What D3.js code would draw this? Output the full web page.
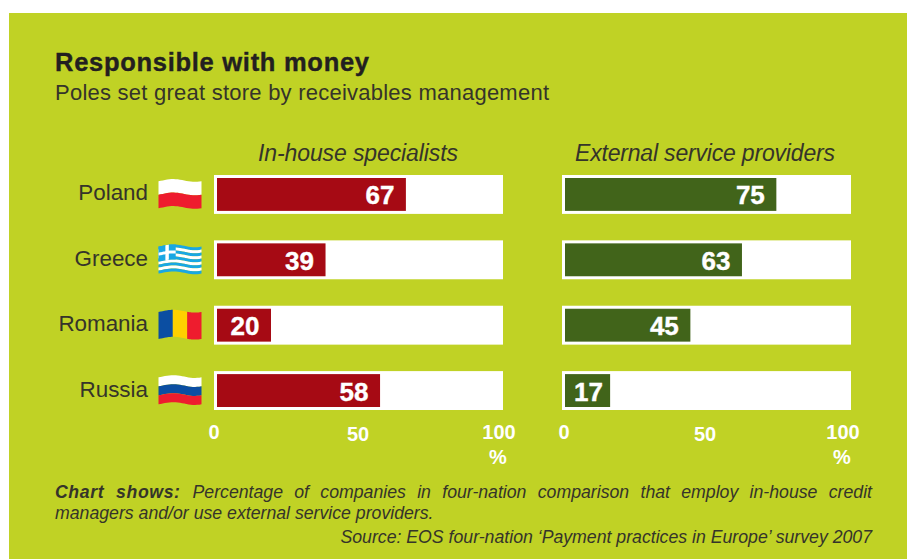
<!DOCTYPE html>
<html>
<head>
<meta charset="utf-8">
<script src="https://cdn.jsdelivr.net/npm/d3@7"></script>
<style>
html,body{margin:0;padding:0;background:#fff;}
svg{display:block;}
text{font-family:"Liberation Sans",Arial,sans-serif;}
</style>
</head>
<body>
<svg id="chart" width="907" height="559"></svg>
<script>
const countries = ["Poland", "Greece", "Romania", "Russia"];
const inHouse = [67, 39, 20, 58];
const external = [75, 63, 45, 17];
const tickValues = [0, 50, 100];
const panelTitles = ["In-house specialists", "External service providers"];
const flagStripes = [
  ["#ffffff", "#ee1c2e"],
  null,
  null,
  ["#ffffff", "#0b4ea2", "#ee1c2e"]
];
const romaniaBands = ["#0b4ea2", "#ffd100", "#ee1c2e"];

const svg = d3.select("#chart");
const ink = "#35342a";

svg.append("rect").attr("x", 9).attr("y", 13).attr("width", 898).attr("height", 546).attr("fill", "#c0d225");

svg.append("text").attr("x", 55).attr("y", 71).attr("font-size", 25.5).attr("font-weight", 700)
  .attr("fill", "#231f20").attr("stroke", "#231f20").attr("stroke-width", 0.4)
  .attr("textLength", 314).text("Responsible with money");
svg.append("text").attr("x", 55).attr("y", 100).attr("font-size", 22).attr("fill", ink)
  .attr("textLength", 494).text("Poles set great store by receivables management");

const y = d3.scaleBand().domain(countries).range([175, 410]).paddingInner(0.405).paddingOuter(0);

const panels = [
  { values: inHouse, trackX: 214, range: [213.6, 500.6], color: "#a60a14", titleX: 358, title: panelTitles[0], titleLen: 200, tickX: [214, 358, 499] },
  { values: external, trackX: 562, range: [561.4, 848], color: "#41641a", titleX: 705, title: panelTitles[1], titleLen: 260, tickX: [564, 705, 843] }
];

panels.forEach(p => {
  const x = d3.scaleLinear().domain([0, 100]).range(p.range);
  const barLeft = p.trackX + 3;
  const g = svg.append("g");

  g.append("text").attr("x", p.titleX).attr("y", 161).attr("text-anchor", "middle")
    .attr("font-size", 23).attr("font-style", "italic").attr("fill", ink)
    .attr("textLength", p.titleLen).text(p.title);

  g.selectAll("rect.track").data(countries).join("rect").attr("class", "track")
    .attr("x", p.trackX).attr("y", d => y(d)).attr("width", 289).attr("height", y.bandwidth())
    .attr("fill", "#fff");

  g.selectAll("rect.bar").data(p.values).join("rect").attr("class", "bar")
    .attr("x", barLeft).attr("y", (d, i) => y(countries[i]) + 3)
    .attr("width", d => x(d) - barLeft).attr("height", y.bandwidth() - 6)
    .attr("fill", p.color);

  g.selectAll("text.value").data(p.values).join("text").attr("class", "value")
    .attr("x", d => d < 30 ? (x(d) + barLeft) / 2 + 1 : x(d) - 26)
    .attr("y", (d, i) => y(countries[i]) + y.bandwidth() / 2 + 10)
    .attr("text-anchor", "middle").attr("font-size", 26).attr("font-weight", 700)
    .attr("fill", "#fff").attr("stroke", "#fff").attr("stroke-width", 0.4).text(d => d);

  g.selectAll("text.tick").data(tickValues).join("text").attr("class", "tick")
    .attr("x", (d, i) => p.tickX[i]).attr("y", (d, i) => i === 1 ? 441 : 439)
    .attr("text-anchor", "middle").attr("font-size", 20).attr("font-weight", 700)
    .attr("fill", "#fff").text(d => d);

  g.append("text").attr("x", p.tickX[2] - 1).attr("y", 464).attr("text-anchor", "middle")
    .attr("font-size", 20).attr("font-weight", 700).attr("fill", "#fff").text("%");
});

svg.selectAll("text.country").data(countries).join("text").attr("class", "country")
  .attr("x", 148).attr("y", d => y(d) + y.bandwidth() / 2 + 6)
  .attr("text-anchor", "end").attr("font-size", 22.4).attr("fill", ink).text(d => d);

// Waving flag: horizontal bands are bent along a sine so each one ripples.
const flagW = 43, flagH = 27;
const wave = u => -1.4 * Math.sin(u * Math.PI * 2 - 0.6);
function waveBand(x0, y0, u0, u1, v0, v1) {
  const steps = d3.range(0, 21).map(i => u0 + (u1 - u0) * i / 20);
  const top = steps.map(u => [x0 + u * flagW, y0 + v0 * flagH + wave(u)]);
  const bottom = steps.slice().reverse().map(u => [x0 + u * flagW, y0 + v1 * flagH + wave(u)]);
  return d3.line()(top.concat(bottom)) + "Z";
}

countries.forEach((c, i) => {
  const fx = 158.5, fy = y(c) + y.bandwidth() / 2 - 14;
  const g = svg.append("g");
  if (c === "Greece") {
    const stripes = d3.range(9);
    g.selectAll("path.s").data(stripes).join("path").attr("class", "s")
      .attr("d", s => waveBand(fx, fy, 0, 1, s / 9, (s + 1) / 9))
      .attr("fill", s => s % 2 ? "#ffffff" : "#19a7e3");
    g.append("path").attr("d", waveBand(fx, fy, 0, 0.4, 0, 5 / 9)).attr("fill", "#19a7e3");
    g.append("path").attr("d", waveBand(fx, fy, 0, 0.4, 2 / 9, 3 / 9)).attr("fill", "#fff");
    g.append("path").attr("d", waveBand(fx, fy, 0.16, 0.24, 0, 5 / 9)).attr("fill", "#fff");
  } else if (c === "Romania") {
    romaniaBands.forEach((col, k) => {
      g.append("path").attr("d", waveBand(fx, fy, k / 3, (k + 1) / 3, 0, 1)).attr("fill", col);
    });
  } else {
    const bands = flagStripes[i];
    bands.forEach((col, k) => {
      g.append("path").attr("d", waveBand(fx, fy, 0, 1, k / bands.length, (k + 1) / bands.length)).attr("fill", col);
    });
  }
});

const note = svg.append("g").attr("font-size", 17.7).attr("font-style", "italic").attr("fill", ink);
const line1 = note.append("text").attr("x", 55).attr("y", 498);
line1.append("tspan").attr("font-weight", 700).attr("letter-spacing", 0.6).text("Chart shows: ");
line1.append("tspan").text("Percentage of companies in four-nation comparison that employ in-house credit");
// The first line of the note is justified by widening its word gaps.
const gaps = 11;
line1.attr("word-spacing", (817 - line1.node().getComputedTextLength()) / gaps);
note.append("text").attr("x", 55).attr("y", 519).text("managers and/or use external service providers.");
note.append("text").attr("x", 872).attr("y", 543).attr("text-anchor", "end")
  .text("Source: EOS four-nation \u2018Payment practices in Europe\u2019 survey 2007");
</script>
</body>
</html>
